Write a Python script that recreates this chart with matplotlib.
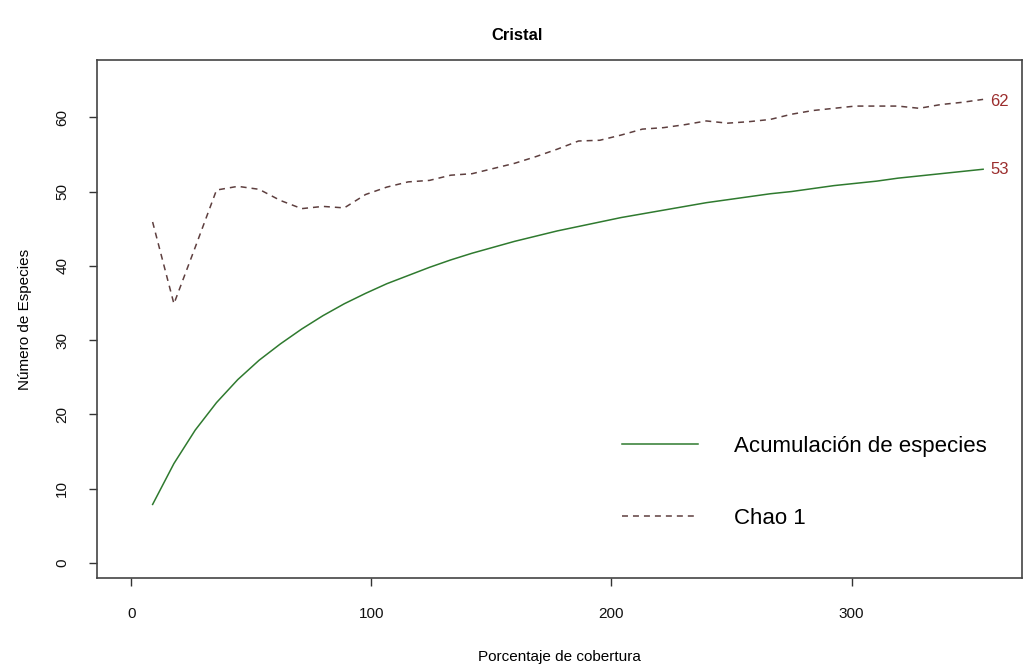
import matplotlib
matplotlib.use("Agg")
import matplotlib.pyplot as plt

plt.rcParams['font.family'] = ['Liberation Sans', 'DejaVu Sans']
plt.rcParams['lines.scale_dashes'] = False

# Data
cobertura = [8.87, 17.74, 26.61, 35.48, 44.35, 53.22, 62.09, 70.96, 79.83, 88.70,
             97.57, 106.44, 115.31, 124.18, 133.05, 141.92, 150.79, 159.66, 168.53, 177.40,
             186.27, 195.14, 204.01, 212.88, 221.75, 230.62, 239.49, 248.36, 257.23, 266.10,
             274.97, 283.84, 292.71, 301.58, 310.45, 319.32, 328.19, 337.06, 345.93, 354.80]
acumulacion = [7.9, 13.4, 17.9, 21.6, 24.7, 27.3, 29.5, 31.5, 33.3, 34.9,
               36.3, 37.6, 38.7, 39.8, 40.8, 41.7, 42.5, 43.3, 44.0, 44.7,
               45.3, 45.9, 46.5, 47.0, 47.5, 48.0, 48.5, 48.9, 49.3, 49.7,
               50.0, 50.4, 50.8, 51.1, 51.4, 51.8, 52.1, 52.4, 52.7, 53.0]
chao1 = [45.9, 34.9, 42.5, 50.2, 50.7, 50.3, 48.8, 47.7, 48.0, 47.8,
         49.6, 50.6, 51.3, 51.5, 52.2, 52.4, 53.1, 53.8, 54.7, 55.7,
         56.8, 56.9, 57.6, 58.4, 58.6, 59.0, 59.5, 59.2, 59.4, 59.7,
         60.4, 60.9, 61.2, 61.5, 61.5, 61.5, 61.2, 61.7, 62.0, 62.4]
x_ticks = [0, 100, 200, 300]
y_ticks = [0, 10, 20, 30, 40, 50, 60]

W, H = 1034, 670
fig = plt.figure(figsize=(W / 100, H / 100), dpi=100)
L, R, T, B = 97, 1022, 60, 578
ax = fig.add_axes([L / W, 1 - B / H, (R - L) / W, (B - T) / H])

green = '#2f7a2f'
chao_col = '#5e3f3f'
lab_col = '#9b2d2d'

ax.plot(cobertura, acumulacion, color=green, lw=1.1, label='Acumulación de especies')
ax.plot(cobertura, chao1, color=chao_col, lw=1.1, dashes=(4.3, 3.6), label='Chao 1')

ax.annotate(f"{round(chao1[-1])}", (cobertura[-1], chao1[-1]), xytext=(5, -1.5),
            textcoords='offset points', ha='left', va='center', color=lab_col, fontsize=12)
ax.annotate(f"{round(acumulacion[-1])}", (cobertura[-1], acumulacion[-1]), xytext=(5, 0),
            textcoords='offset points', ha='left', va='center', color=lab_col, fontsize=12)

ax.set_xlim(-14.3, 371)
ax.set_ylim(-2.0, 67.7)
ax.set_xticks(x_ticks)
ax.set_yticks(y_ticks)
ax.tick_params(axis='both', direction='out', length=6, width=1, colors='#333333',
               labelsize=11, labelcolor='#111111')
ax.tick_params(axis='x', pad=15)
ax.tick_params(axis='y', pad=14)
for lab in ax.get_yticklabels():
    lab.set_rotation(90)
    lab.set_va('center')
for s in ax.spines.values():
    s.set_color('#444444')
    s.set_linewidth(1.2)

ax.set_xlabel('Porcentaje de cobertura', fontsize=11, labelpad=21)
ax.set_ylabel('Número de Especies', fontsize=11, labelpad=17)
fig.text(0.5, 1 - 35 / H, 'Cristal', ha='center', va='center', fontsize=12, fontweight='bold')

leg = ax.legend(loc='upper left', bbox_to_anchor=((622 - L) / (R - L), (B - 436) / (B - T)),
                frameon=False, fontsize=16, handlelength=3.4, handletextpad=1.65,
                labelspacing=2.3, borderpad=0, borderaxespad=0)

fig.savefig('out.png', dpi=100, facecolor='white')
